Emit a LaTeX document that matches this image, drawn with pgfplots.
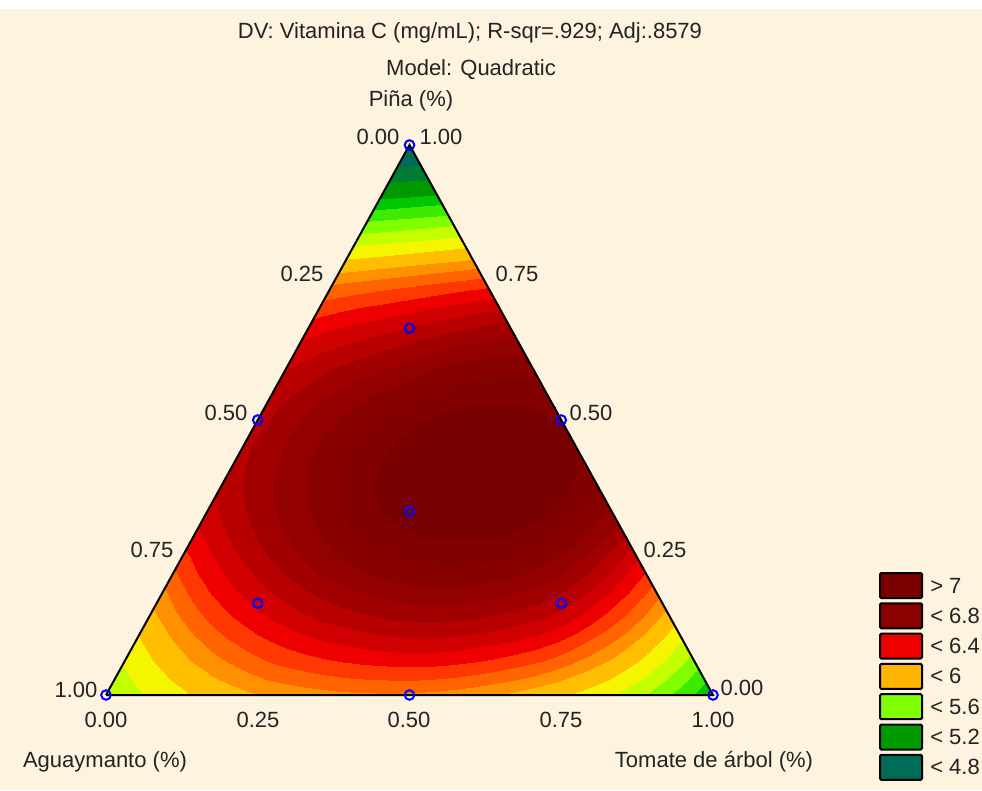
\documentclass[border=0pt]{standalone}
\usepackage{fontspec}
\setmainfont{Liberation Sans}
\usepackage{pgfplots}
\pgfplotsset{compat=1.18}
\usepgfplotslibrary{patchplots}
\definecolor{bgcream}{RGB}{253,243,223}
\definecolor{txt}{RGB}{35,35,35}
\definecolor{lg1}{RGB}{122,0,0}
\definecolor{lg2}{RGB}{139,0,0}
\definecolor{lg3}{RGB}{238,0,0}
\definecolor{lg4}{RGB}{255,180,0}
\definecolor{lg5}{RGB}{128,255,0}
\definecolor{lg6}{RGB}{0,153,0}
\definecolor{lg7}{RGB}{0,107,87}
\pgfplotsset{colormap={vitc}{
 rgb255(4.4cm)=(0,107,87)
 rgb255(4.8cm)=(0,125,50)
 rgb255(5.0cm)=(0,153,0)
 rgb255(5.2cm)=(0,200,0)
 rgb255(5.333cm)=(60,235,0)
 rgb255(5.467cm)=(128,255,0)
 rgb255(5.6cm)=(195,255,0)
 rgb255(5.733cm)=(245,245,0)
 rgb255(5.867cm)=(255,190,0)
 rgb255(6.0cm)=(255,145,0)
 rgb255(6.1cm)=(255,100,0)
 rgb255(6.2cm)=(255,55,0)
 rgb255(6.3cm)=(238,0,0)
 rgb255(6.4cm)=(208,0,0)
 rgb255(6.5cm)=(184,0,0)
 rgb255(6.6cm)=(162,0,0)
 rgb255(6.7cm)=(146,0,0)
 rgb255(6.8cm)=(136,0,0)
 rgb255(6.9cm)=(130,0,0)
 rgb255(7.0cm)=(120,0,0)
 rgb255(7.2cm)=(120,0,0)
}}
\begin{document}
\begin{tikzpicture}
\fill[bgcream] (0,0) rectangle (736.5pt,-592.5pt);
\fill[white] (0,0) rectangle (736.5pt,-7pt);
\begin{axis}[at={(0,0)}, anchor=north west, scale only axis,
  x=455.25pt, y=412.5pt,
  xmin=-0.174629, xmax=1.443163, ymin=-0.172727, ymax=1.263636,
  hide axis, clip=false,
  point meta min=4.4, point meta max=7.2, colormap name=vitc]
\addplot[patch, patch type=triangle quadr, shader=interp, patch refines=3, patch to triangles,
  point meta=explicit, colormap access=piecewise constant] coordinates {
(0,0)[5.600] (0.25,0)[5.997] (0.125,0.25)[6.263] (0.125,0)[5.844] (0.1875,0.125)[6.226] (0.0625,0.125)[5.913]
(0.25,0)[5.997] (0.5,0)[6.083] (0.375,0.25)[6.787] (0.375,0)[6.072] (0.4375,0.125)[6.542] (0.3125,0.125)[6.426]
(0.5,0)[6.083] (0.75,0)[5.879] (0.625,0.25)[6.930] (0.625,0)[6.021] (0.6875,0.125)[6.486] (0.5625,0.125)[6.572]
(0.75,0)[5.879] (1,0)[5.200] (0.875,0.25)[6.409] (0.875,0)[5.641] (0.9375,0.125)[5.858] (0.8125,0.125)[6.251]
(0.125,0.25)[6.263] (0.375,0.25)[6.787] (0.25,0.5)[6.563] (0.25,0.25)[6.561] (0.3125,0.375)[6.766] (0.1875,0.375)[6.517]
(0.375,0.25)[6.787] (0.625,0.25)[6.930] (0.5,0.5)[6.970] (0.5,0.25)[6.920] (0.5625,0.375)[7.090] (0.4375,0.375)[6.995]
(0.625,0.25)[6.930] (0.875,0.25)[6.409] (0.75,0.5)[6.985] (0.75,0.25)[6.780] (0.8125,0.375)[6.900] (0.6875,0.375)[7.080]
(0.25,0.5)[6.563] (0.5,0.5)[6.970] (0.375,0.75)[6.091] (0.375,0.5)[6.787] (0.4375,0.625)[6.582] (0.3125,0.625)[6.438]
(0.5,0.5)[6.970] (0.75,0.5)[6.985] (0.625,0.75)[6.252] (0.625,0.5)[7.045] (0.6875,0.625)[6.780] (0.5625,0.625)[6.718]
(0.375,0.75)[6.091] (0.625,0.75)[6.252] (0.5,1)[4.500] (0.5,0.75)[6.168] (0.5625,0.875)[5.451] (0.4375,0.875)[5.379]
(0.25,0)[5.997] (0.375,0.25)[6.787] (0.125,0.25)[6.263] (0.3125,0.125)[6.426] (0.25,0.25)[6.561] (0.1875,0.125)[6.226]
(0.5,0)[6.083] (0.625,0.25)[6.930] (0.375,0.25)[6.787] (0.5625,0.125)[6.572] (0.5,0.25)[6.920] (0.4375,0.125)[6.542]
(0.75,0)[5.879] (0.875,0.25)[6.409] (0.625,0.25)[6.930] (0.8125,0.125)[6.251] (0.75,0.25)[6.780] (0.6875,0.125)[6.486]
(0.375,0.25)[6.787] (0.5,0.5)[6.970] (0.25,0.5)[6.563] (0.4375,0.375)[6.995] (0.375,0.5)[6.787] (0.3125,0.375)[6.766]
(0.625,0.25)[6.930] (0.75,0.5)[6.985] (0.5,0.5)[6.970] (0.6875,0.375)[7.080] (0.625,0.5)[7.045] (0.5625,0.375)[7.090]
(0.5,0.5)[6.970] (0.625,0.75)[6.252] (0.375,0.75)[6.091] (0.5625,0.625)[6.718] (0.5,0.75)[6.168] (0.4375,0.625)[6.582]
};
\addplot[black, line width=1.5pt, line join=miter] coordinates {(0,0) (1,0) (0.5,1) (0,0)};
\addplot[only marks, mark=o, mark size=3.6pt, mark options={blue, line width=1.5pt}] coordinates {
(0,0) (1,0) (0.5,1) (0.25,0.5) (0.75,0.5) (0.5,0) (0.5,0.33333) (0.5,0.66667) (0.25,0.16667) (0.75,0.16667)};
\end{axis}
\begin{scope}[x=0.75pt, y=-0.75pt, every node/.style={inner sep=0pt, text=txt, font=\fontsize{16.5}{19}\selectfont}]
\node at (470,33) {DV: Vitamina C (mg/mL); R-sqr=.929; Adj:.8579};
\node at (471,70) {Model: Quadratic};
\node at (411,101) {Piña (\%)};
\node at (378,137) {0.00};
\node at (441,137) {1.00};
\node at (302,274) {0.25};
\node at (226,413) {0.50};
\node at (152,550) {0.75};
\node at (76,690) {1.00};
\node at (517,274) {0.75};
\node at (591,413) {0.50};
\node at (665,550) {0.25};
\node at (742,688) {0.00};
\node at (106,720) {0.00};
\node at (258,720) {0.25};
\node at (409,720) {0.50};
\node at (561,720) {0.75};
\node at (713,720) {1.00};
\node at (105,762) {Aguaymanto (\%)};
\node at (714,762) {Tomate de árbol (\%)};
\foreach \c/\l [count=\i from 0] in {lg1/{> 7}, lg2/{< 6.8}, lg3/{< 6.4}, lg4/{< 6}, lg5/{< 5.6}, lg6/{< 5.2}, lg7/{< 4.8}} {
  \draw[line width=1.5pt, fill=\c, rounded corners=1pt] (880,{573+30.3*\i}) rectangle (922,{598+30.3*\i});
  \node[anchor=west] at (930,{585.5+30.3*\i}) {\l};
}
\end{scope}
\end{tikzpicture}
\end{document}
